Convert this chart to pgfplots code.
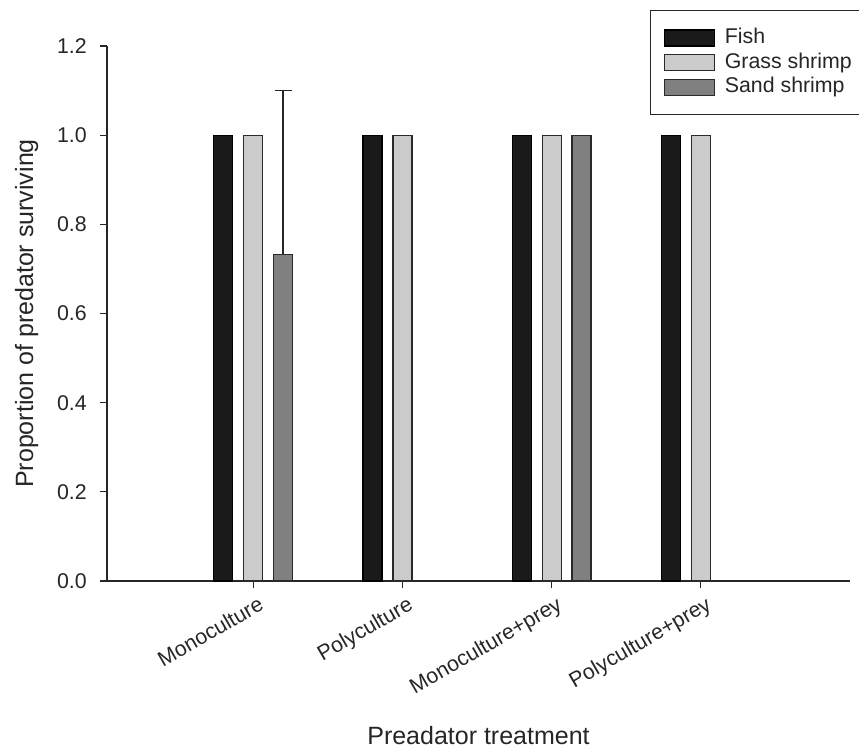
\documentclass[border=0pt]{standalone}
\usepackage{fontspec}
\setmainfont{Liberation Sans}
\usepackage{pgfplots}
\pgfplotsset{compat=1.18}
\definecolor{fishc}{HTML}{1A1A1A}
\definecolor{grassc}{HTML}{CBCBCB}
\definecolor{sandc}{HTML}{808080}
\definecolor{edgec}{HTML}{2A2A2A}
\pgfplotsset{mybar/.style={ybar, bar width=14.25pt, bar shift=0pt, line width=0.9pt,
  legend image code/.code={\draw[##1] (0pt,-6pt) rectangle (37.5pt,6pt);}}}
\begin{document}
\begin{tikzpicture}
\begin{axis}[
  at={(0pt,0pt)}, anchor=south west,
  scale only axis, width=557.25pt, height=401.25pt,
  xmin=-0.98, xmax=4.0, ymin=0, ymax=1.2,
  axis x line=bottom, axis y line=left,
  axis line style={-, draw=black!85, line width=1.1pt},
  tick align=outside, major tick length=5.25pt,
  tick style={draw=black!85, line width=0.9pt},
  xtick={0,1,2,3},
  xticklabels={Monoculture,Polyculture,Monoculture+prey,Polyculture+prey},
  ytick={0,0.2,0.4,0.6,0.8,1.0,1.2},
  /pgf/number format/fixed, /pgf/number format/fixed zerofill,
  /pgf/number format/precision=1, /pgf/number format/assume math mode=true,
  tick label style={font=\fontsize{16pt}{19pt}\selectfont, text=black!85},
  xticklabel style={rotate=30, anchor=north east, inner sep=0pt, yshift=-6pt},
  yticklabel style={inner sep=0pt, xshift=-9.75pt},
  xlabel={Preadator treatment}, ylabel={Proportion of predator surviving},
  label style={font=\fontsize{18.75pt}{22pt}\selectfont, text=black!85, inner sep=0pt},
  xlabel style={at={(axis description cs:0.5,-0.3047)}, anchor=base},
  ylabel style={at={(axis description cs:-0.0922,0.5)}, anchor=south},
  legend style={at={(axis description cs:0.731,1.067)}, anchor=north west,
    draw=black!85, line width=0.8pt, font=\fontsize{16pt}{19pt}\selectfont,
    text=black!85, inner xsep=9.75pt, inner ysep=13pt, row sep=3.5pt,
    nodes={inner sep=0pt, text height=11.5pt, text depth=3.5pt},
    /tikz/every odd column/.append style={column sep=7.5pt}},
  legend cell align=left,
]
\addplot[mybar, fill=fishc, draw=black] coordinates {(-0.2,1.0) (0.8,1.0) (1.8,1.0) (2.8,1.0)};
\addplot[mybar, fill=grassc, draw=edgec] coordinates {(0,1.0) (1,1.0) (2,1.0) (3,1.0)};
\addplot[mybar, fill=sandc, draw=edgec,
  error bars/.cd, y dir=plus, y explicit,
  error bar style={line width=1pt, draw=black!85},
  error mark options={rotate=90, mark size=6.4pt, line width=1pt, draw=black!85}]
  coordinates {(0.2,0.733) +- (0,0.367)};
\addplot[mybar, fill=sandc, draw=edgec, forget plot] coordinates {(2.2,1.0)};
\legend{Fish, Grass shrimp, Sand shrimp}
\end{axis}
\pgfresetboundingbox
\path[use as bounding box] (-80.25pt,-126pt) rectangle (564pt,435.75pt);
\end{tikzpicture}
\end{document}
